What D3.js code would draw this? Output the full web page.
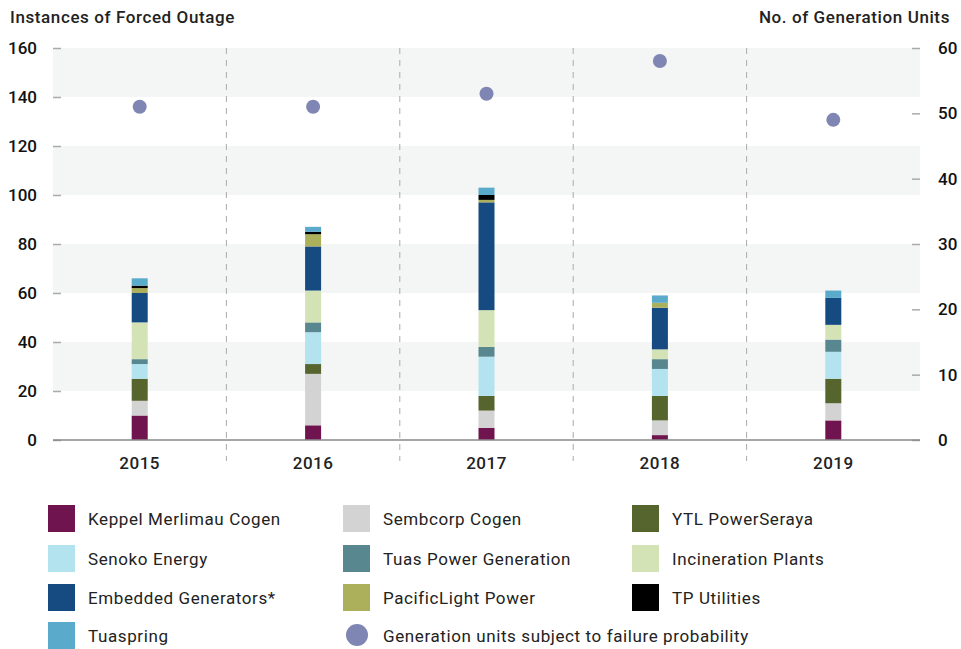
<!DOCTYPE html>
<html>
<head>
<meta charset="utf-8">
<script src="https://cdn.jsdelivr.net/npm/d3@7"></script>
<style>
body { margin: 0; background: #fff; }
text { font-family: Roboto, "DejaVu Sans", sans-serif; }
</style>
</head>
<body>
<div id="chart"></div>
<script>
var years = ["2015", "2016", "2017", "2018", "2019"];
var series = ["Keppel Merlimau Cogen", "Sembcorp Cogen", "YTL PowerSeraya", "Senoko Energy",
	"Tuas Power Generation", "Incineration Plants", "Embedded Generators*", "PacificLight Power",
	"TP Utilities", "Tuaspring"];
var colors = ["#701450", "#d3d3d3", "#56642e", "#b3e3ef", "#588790", "#d3e3b5", "#154b80", "#adb05a", "#000000", "#5aaacb"];

var keppel = [10, 6, 5, 2, 8];
var sembcorp = [6, 21, 7, 6, 7];
var ytl = [9, 4, 6, 10, 10];
var senoko = [6, 13, 16, 11, 11];
var tuas = [2, 4, 4, 4, 5];
var incineration = [15, 13, 15, 4, 6];
var embedded = [12, 18, 44, 17, 11];
var pacific = [2, 5, 1, 2, 0];
var tpUtilities = [1, 1, 2, 0, 0];
var tuaspring = [3, 2, 3, 3, 3];
var genUnits = [51, 51, 53, 58, 49];

var leftTicks = [0, 20, 40, 60, 80, 100, 120, 140, 160];
var rightTicks = [0, 10, 20, 30, 40, 50, 60];

var allValues = [keppel, sembcorp, ytl, senoko, tuas, incineration, embedded, pacific, tpUtilities, tuaspring];

var table = years.map(function(y, i) {
	var row = { year: y };
	series.forEach(function(s, j) { row[s] = allValues[j][i]; });
	return row;
});

var width = 961, height = 649;
var padding = { left: 53, right: 41, top: 48, bottom: 209 };

var svg = d3.select("#chart")
	.append("svg")
	.attr("width", width)
	.attr("height", height);

var xScale = d3.scaleBand()
	.domain(years)
	.range([padding.left, width - padding.right]);

var yScale = d3.scaleLinear()
	.domain([0, 160])
	.range([height - padding.bottom, padding.top]);

var yRight = d3.scaleLinear()
	.domain([0, 60])
	.range([height - padding.bottom, padding.top]);

// grey bands
for (var i = 0; i < leftTicks.length - 1; i++) {
	if (i % 2 == 1) {
		svg.append("rect")
			.attr("x", padding.left)
			.attr("y", yScale(leftTicks[i + 1]))
			.attr("width", width - padding.right - padding.left)
			.attr("height", yScale(leftTicks[i]) - yScale(leftTicks[i + 1]))
			.attr("fill", "#f4f5f5");
	}
}

// dashed separators
svg.selectAll(".sep")
	.data(years.slice(1))
	.enter()
	.append("line")
	.attr("x1", function(d) { return xScale(d); })
	.attr("x2", function(d) { return xScale(d); })
	.attr("y1", padding.top)
	.attr("y2", 461)
	.attr("stroke", "#aaa")
	.attr("stroke-width", 1)
	.attr("stroke-dasharray", "6,6");

var yAxis = d3.axisLeft(yScale)
	.tickValues(leftTicks)
	.tickSizeInner(8)
	.tickSizeOuter(0)
	.tickPadding(16);

var yAxisRight = d3.axisRight(yRight)
	.tickValues(rightTicks)
	.tickSizeInner(8)
	.tickSizeOuter(0)
	.tickPadding(18);

var gl = svg.append("g")
	.attr("transform", "translate(" + (padding.left + 8) + ",0)")
	.call(yAxis);
var gr = svg.append("g")
	.attr("transform", "translate(" + (width - padding.right - 8) + ",0)")
	.call(yAxisRight);

[gl, gr].forEach(function(g) {
	g.select(".domain").remove();
	g.selectAll(".tick line").attr("stroke", "#aaa").attr("stroke-width", 1.5);
	g.selectAll(".tick text")
		.attr("fill", "#111")
		.style("font-size", "17px")
		.style("font-weight", "500");
});

// stacked bars
var stack = d3.stack().keys(series);
var stacked = stack(table);
var barW = 16;

svg.selectAll(".layer")
	.data(stacked)
	.enter()
	.append("g")
	.attr("fill", function(d, i) { return colors[i]; })
	.selectAll("rect")
	.data(function(d) { return d; })
	.enter()
	.append("rect")
	.attr("x", function(d) { return xScale(d.data.year) + xScale.bandwidth() / 2 - barW / 2; })
	.attr("y", function(d) { return yScale(d[1]); })
	.attr("width", barW)
	.attr("height", function(d) { return yScale(d[0]) - yScale(d[1]); });

// baseline
svg.append("line")
	.attr("x1", padding.left)
	.attr("x2", width - padding.right)
	.attr("y1", yScale(0))
	.attr("y2", yScale(0))
	.attr("stroke", "#888")
	.attr("stroke-width", 1.5);

// x labels
var xAxis = d3.axisBottom(xScale).tickSize(0).tickPadding(17);
var gx = svg.append("g")
	.attr("transform", "translate(0," + yScale(0) + ")")
	.call(xAxis);
gx.select(".domain").remove();
gx.selectAll(".tick text")
	.attr("fill", "#222")
	.style("font-size", "17px")
	.style("font-weight", "500")
	.style("letter-spacing", "0.5px");

// generation units dots
svg.selectAll(".dot")
	.data(genUnits)
	.enter()
	.append("circle")
	.attr("cx", function(d, i) { return xScale(years[i]) + xScale.bandwidth() / 2; })
	.attr("cy", function(d) { return yRight(d); })
	.attr("r", 7)
	.attr("fill", "#8086b3");

// axis titles
svg.append("text")
	.attr("x", 10)
	.attr("y", 23)
	.attr("fill", "#222")
	.style("font-size", "17px")
	.style("font-weight", "500")
	.style("letter-spacing", "0.6px")
	.text("Instances of Forced Outage");

svg.append("text")
	.attr("x", 950)
	.attr("y", 23)
	.attr("text-anchor", "end")
	.attr("fill", "#222")
	.style("font-size", "17px")
	.style("font-weight", "500")
	.style("letter-spacing", "0.6px")
	.text("No. of Generation Units");

// legend
var legendCols = [48, 343, 632];
var legendRows = [505, 545, 584, 622];
var legendItems = series.map(function(s, i) { return { name: s, color: colors[i], type: "rect" }; });
legendItems.push({ name: "Generation units subject to failure probability", color: "#8086b3", type: "circle" });

var lg = svg.selectAll(".legend")
	.data(legendItems)
	.enter()
	.append("g")
	.attr("transform", function(d, i) {
		return "translate(" + legendCols[i % 3] + "," + legendRows[Math.floor(i / 3)] + ")";
	});

lg.each(function(d) {
	var g = d3.select(this);
	if (d.type == "rect") {
		g.append("rect").attr("width", 27).attr("height", 27).attr("fill", d.color);
	} else {
		g.append("circle").attr("cx", 14).attr("cy", 13).attr("r", 11).attr("fill", d.color);
	}
	g.append("text")
		.attr("x", 40)
		.attr("y", 20)
		.attr("fill", "#222")
		.style("font-size", "17px")
		.style("letter-spacing", "0.6px")
		.text(d.name);
});
</script>
</body>
</html>
